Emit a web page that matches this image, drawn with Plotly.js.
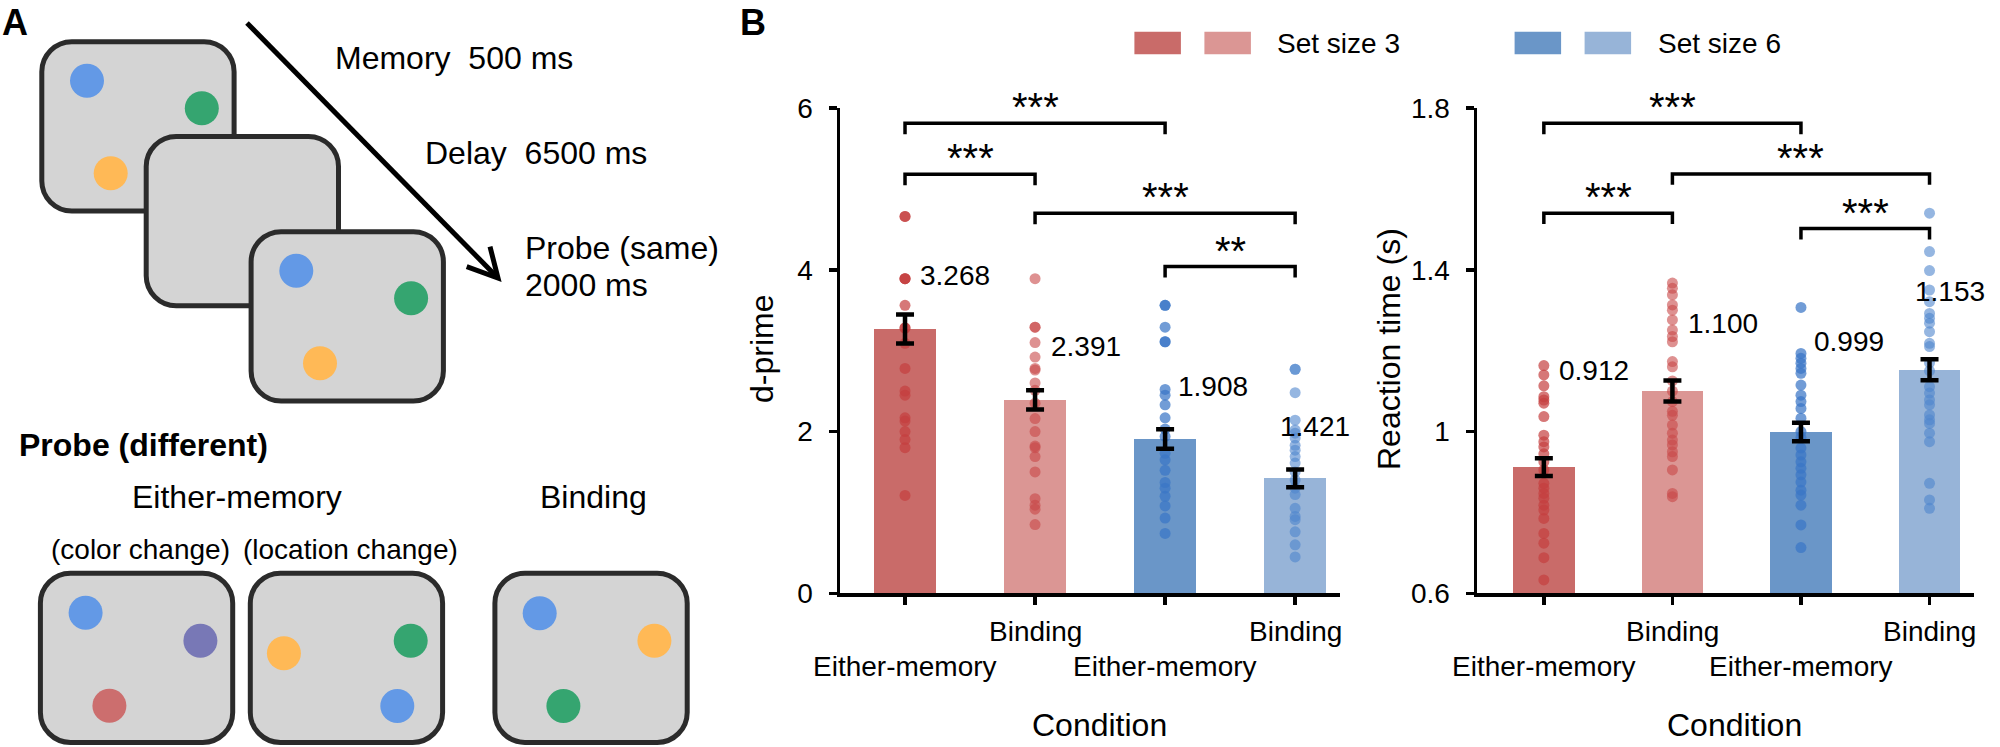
<!DOCTYPE html>
<html>
<head>
<meta charset="utf-8">
<script src="https://cdn.plot.ly/plotly-3.0.1.min.js"></script>
<style>
html,body{margin:0;padding:0;background:#fff;overflow:hidden}
#plot{width:2000px;height:747px}
</style>
</head>
<body>
<div id="plot"></div>
<script>
// ---------------- DATA ----------------
const categories = ['Either-memory', 'Binding', 'Either-memory', 'Binding'];
const groups = ['Set size 3', 'Set size 6'];

const dpMeans = [3.268, 2.391, 1.908, 1.421];
const dpSem = [0.18, 0.12, 0.12, 0.11];
const rtMeans = [0.912, 1.100, 0.999, 1.153];
const rtSem = [0.022, 0.026, 0.023, 0.026];

const dpEither3 = [4.66, 4.66, 3.89, 3.89, 3.89, 3.56, 3.28, 3.28, 3.09, 2.78, 2.50, 2.45, 2.17, 2.13, 2.00, 1.90, 1.80, 1.21];
const dpBinding3 = [3.89, 3.29, 3.29, 3.10, 2.92, 2.78, 2.76, 2.60, 2.51, 2.35, 2.16, 2.00, 1.82, 1.80, 1.69, 1.50, 1.17, 1.09, 1.04, 0.85];
const dpEither6 = [3.56, 3.56, 3.29, 3.11, 3.11, 2.52, 2.45, 2.33, 2.17, 2.03, 1.94, 1.73, 1.65, 1.52, 1.37, 1.30, 1.20, 1.08, 0.93, 0.74];
const dpBinding6 = [2.77, 2.77, 2.48, 2.14, 2.02, 1.98, 1.92, 1.83, 1.77, 1.69, 1.61, 1.50, 1.40, 1.30, 1.22, 1.05, 0.95, 0.91, 0.76, 0.60, 0.45];

const rtEither3 = [1.163, 1.140, 1.113, 1.086, 1.078, 1.070, 1.037, 0.991, 0.975, 0.962, 0.945, 0.925, 0.905, 0.872, 0.860, 0.847, 0.835, 0.818, 0.806, 0.785, 0.748, 0.724, 0.688, 0.633];
const rtBinding3 = [1.367, 1.354, 1.338, 1.313, 1.300, 1.276, 1.251, 1.235, 1.222, 1.173, 1.160, 1.125, 1.100, 1.074, 1.050, 1.040, 1.016, 0.996, 0.979, 0.967, 0.950, 0.938, 0.905, 0.847, 0.839];
const rtEither6 = [1.307, 1.193, 1.181, 1.169, 1.156, 1.144, 1.115, 1.090, 1.074, 1.057, 1.033, 1.000, 0.985, 0.959, 0.942, 0.925, 0.909, 0.893, 0.875, 0.855, 0.843, 0.818, 0.769, 0.713];
const rtBinding6 = [1.540, 1.445, 1.398, 1.350, 1.321, 1.292, 1.280, 1.268, 1.247, 1.218, 1.210, 1.170, 1.150, 1.111, 1.095, 1.078, 1.066, 1.041, 1.029, 1.020, 0.996, 0.975, 0.872, 0.831, 0.810];

const dpTickVals = [0, 2, 4, 6];
const dpTickText = ['0', '2', '4', '6'];
const rtTickVals = [0.6, 1.0, 1.4, 1.8];
const rtTickText = ['0.6', '1', '1.4', '1.8'];

// significance comparisons: [from, to, level, stars]
const dpComparisons = [[0, 2, 5.81, '***'], [0, 1, 5.18, '***'], [1, 3, 4.70, '***'], [2, 3, 4.04, '**']];
const rtComparisons = [[0, 2, 1.762, '***'], [1, 3, 1.637, '***'], [0, 1, 1.540, '***'], [2, 3, 1.502, '***']];

// ---------------- STYLE / LAYOUT ----------------
const W = 2000, H = 747;
const px = x => x / W;
const py = y => 1 - y / H;
const FONT = 'Liberation Sans, Arial, Helvetica, sans-serif';
const barColors = ['#C96B69', '#DB9694', '#6A96C8', '#97B4D8'];
const dotColors = ['rgba(196,62,62,0.7)', 'rgba(200,72,72,0.6)', 'rgba(58,118,198,0.72)', 'rgba(78,134,205,0.6)'];

const dpLabelY = [3.923, 3.049, 2.554, 2.06];
const rtLabelY = [1.150, 1.267, 1.223, 1.347];
const labelShift = [13, 14, 11, -17];

const charts = [
  {xa: 'x', ya: 'y', means: dpMeans, sem: dpSem, pts: [dpEither3, dpBinding3, dpEither6, dpBinding6],
   comps: dpComparisons, legDrop: 0.136, labelY: dpLabelY},
  {xa: 'x2', ya: 'y2', means: rtMeans, sem: rtSem, pts: [rtEither3, rtBinding3, rtEither6, rtBinding6],
   comps: rtComparisons, legDrop: 0.027, labelY: rtLabelY}
];

const traces = [];
const shapes = [];
const annotations = [];
const catIdx = categories.map((c, i) => i);

charts.forEach(c => {
  traces.push({type: 'bar', x: catIdx, y: c.means, width: 0.48, xaxis: c.xa, yaxis: c.ya,
    marker: {color: barColors, line: {width: 0}}, hoverinfo: 'skip', showlegend: false});
  c.pts.forEach((vals, i) => {
    traces.push({type: 'scatter', mode: 'markers', x: vals.map(() => i), y: vals, xaxis: c.xa, yaxis: c.ya,
      marker: {size: 11, color: dotColors[i], line: {width: 0}}, hoverinfo: 'skip', showlegend: false, cliponaxis: false});
  });
  traces.push({type: 'scatter', mode: 'markers', x: catIdx, y: c.means, xaxis: c.xa, yaxis: c.ya,
    marker: {size: 1, color: 'rgba(0,0,0,0)'}, hoverinfo: 'skip', showlegend: false, cliponaxis: false,
    error_y: {type: 'data', array: c.sem, visible: true, color: '#000', thickness: 4.5, width: 9}});
  // value labels
  c.means.forEach((m, i) => {
    annotations.push({xref: c.xa, yref: c.ya, x: i, y: c.labelY[i], text: m.toFixed(3), showarrow: false,
      xanchor: 'left', yanchor: 'middle', xshift: labelShift[i], font: {family: FONT, size: 28, color: '#000'}});
  });
  // significance brackets
  c.comps.forEach(([a, b, lvl, s]) => {
    shapes.push({type: 'path', xref: c.xa, yref: c.ya,
      path: `M ${a},${lvl - c.legDrop} L ${a},${lvl} L ${b},${lvl} L ${b},${lvl - c.legDrop}`,
      line: {color: '#000', width: 3.5}});
    annotations.push({xref: c.xa, yref: c.ya, x: (a + b) / 2, y: lvl, text: s, showarrow: false,
      xanchor: 'center', yanchor: 'middle', yshift: 16, font: {family: FONT, size: 40, color: '#000'}});
  });
  // category labels (two staggered rows)
  categories.forEach((t, i) => {
    annotations.push({xref: c.xa, yref: 'paper', x: i, y: py(i % 2 === 1 ? 631.7 : 666.7), text: t, showarrow: false,
      xanchor: 'center', yanchor: 'middle', font: {family: FONT, size: 28, color: '#000'}});
  });
});

function axisX(dom, range, anchor) {
  return {domain: dom, range: range, anchor: anchor, showline: true, linecolor: '#000', linewidth: 3.5,
    ticks: 'outside', ticklen: 8, tickwidth: 3.5, tickcolor: '#000', tickvals: [0, 1, 2, 3],
    showticklabels: false, showgrid: false, zeroline: false, fixedrange: true};
}
function axisY(range, vals, text, anchor) {
  return {domain: [py(593.3), py(108)], range: range, anchor: anchor, showline: true, linecolor: '#000', linewidth: 3.5,
    ticks: 'outside', ticklen: 8, tickwidth: 3.5, tickcolor: '#000', tickvals: vals, ticktext: text,
    tickfont: {family: FONT, size: 28, color: '#000'}, ticklabelstandoff: 10,
    showgrid: false, zeroline: false, fixedrange: true};
}

// axis titles
const axisTitles = [
  {text: 'd-prime', x: 762, y: 349, angle: -90},
  {text: 'Reaction time (s)', x: 1389, y: 349, angle: -90},
  {text: 'Condition', x: 1099, y: 725, angle: 0},
  {text: 'Condition', x: 1734, y: 725, angle: 0}
];
axisTitles.forEach(t => annotations.push({xref: 'paper', yref: 'paper', x: px(t.x), y: py(t.y), text: t.text,
  textangle: t.angle, showarrow: false, xanchor: 'center', yanchor: 'middle', font: {family: FONT, size: 32, color: '#000'}}));

// legend (two swatches + label per group)
const legendStart = [1134.4, 1514.6];
groups.forEach((g, gi) => {
  const x0 = legendStart[gi];
  [0, 1].forEach(k => {
    shapes.push({type: 'rect', xref: 'paper', yref: 'paper', x0: px(x0 + k * 70), x1: px(x0 + k * 70 + 46.5),
      y0: py(54.3), y1: py(31.7), fillcolor: barColors[gi * 2 + k], line: {width: 0}});
  });
  annotations.push({xref: 'paper', yref: 'paper', x: px(x0 + 141), y: py(43.3), text: g, showarrow: false,
    xanchor: 'left', yanchor: 'middle', font: {family: FONT, size: 28, color: '#000'}});
});

// panel letters
annotations.push({xref: 'paper', yref: 'paper', x: px(15), y: 1, text: '<b>A</b>', showarrow: false,
  xanchor: 'center', yanchor: 'top', font: {family: FONT, size: 36, color: '#000'}});
annotations.push({xref: 'paper', yref: 'paper', x: px(753), y: 1, text: '<b>B</b>', showarrow: false,
  xanchor: 'center', yanchor: 'top', font: {family: FONT, size: 36, color: '#000'}});

// ---------------- PANEL A SCHEMATIC ----------------
const stimColors = {blue: '#6399E6', green: '#35A570', orange: '#FFB956', red: '#CC6E6E', purple: '#7878B6'};
const frameW = 197.3, frameH = 174.2, frameR = 30;
const frames = [
  {x: 39.3, y: 39.3, dots: [['blue', 47.7, 41.5], ['green', 162.5, 69], ['orange', 71.4, 134]]},
  {x: 143.7, y: 134, dots: []},
  {x: 248.6, y: 229.3, dots: [['blue', 47.7, 41.5], ['green', 162.5, 69], ['orange', 71.4, 134]]},
  {x: 37.9, y: 570.7, dots: [['blue', 47.7, 42], ['purple', 162.5, 70], ['red', 71.5, 135]]},
  {x: 247.8, y: 570.7, dots: [['orange', 36.1, 82.6], ['green', 162.9, 70], ['blue', 149.5, 135.3]]},
  {x: 492.4, y: 570.7, dots: [['blue', 47.3, 42.6], ['orange', 162, 70], ['green', 71, 135.3]]}
];
function roundRect(x, y, w, h, r) {
  const k = 0.552 * r;
  const P = (a, b) => `${px(a)},${py(b)}`;
  return `M ${P(x + r, y)} L ${P(x + w - r, y)} C ${P(x + w - r + k, y)} ${P(x + w, y + r - k)} ${P(x + w, y + r)} ` +
    `L ${P(x + w, y + h - r)} C ${P(x + w, y + h - r + k)} ${P(x + w - r + k, y + h)} ${P(x + w - r, y + h)} ` +
    `L ${P(x + r, y + h)} C ${P(x + r - k, y + h)} ${P(x, y + h - r + k)} ${P(x, y + h - r)} ` +
    `L ${P(x, y + r)} C ${P(x, y + r - k)} ${P(x + r - k, y)} ${P(x + r, y)} Z`;
}
const dotR = 17;
frames.forEach(f => {
  const b = 2.5;
  shapes.push({type: 'path', xref: 'paper', yref: 'paper', layer: 'above',
    path: roundRect(f.x + b, f.y + b, frameW - 2 * b, frameH - 2 * b, frameR),
    fillcolor: '#D4D4D4', line: {color: '#2B2B2B', width: 5}});
  f.dots.forEach(([col, dx, dy]) => {
    const cx = f.x + dx, cy = f.y + dy;
    shapes.push({type: 'circle', xref: 'paper', yref: 'paper', x0: px(cx - dotR), x1: px(cx + dotR),
      y0: py(cy + dotR), y1: py(cy - dotR), fillcolor: stimColors[col], line: {width: 0}});
  });
});
// time arrow
const arrow = {x0: 247, y0: 23, x1: 498, y1: 278, headA: [490, 246.7], headB: [466.7, 266.7]};
shapes.push({type: 'line', xref: 'paper', yref: 'paper', x0: px(arrow.x0), y0: py(arrow.y0),
  x1: px(arrow.x1 - 2), y1: py(arrow.y1 - 2), line: {color: '#000', width: 5}});
shapes.push({type: 'path', xref: 'paper', yref: 'paper',
  path: `M ${px(arrow.headA[0])},${py(arrow.headA[1])} L ${px(arrow.x1)},${py(arrow.y1)} L ${px(arrow.headB[0])},${py(arrow.headB[1])}`,
  line: {color: '#000', width: 5}});

const panelTexts = [
  {t: 'Memory&nbsp;&nbsp;500 ms', x: 332.6, y: 58.3, s: 32, a: 'left'},
  {t: 'Delay&nbsp;&nbsp;6500 ms', x: 423.2, y: 153.3, s: 32, a: 'left'},
  {t: 'Probe (same)', x: 522.7, y: 248.3, s: 32, a: 'left'},
  {t: '2000 ms', x: 522.7, y: 285, s: 32, a: 'left'},
  {t: '<b>Probe (different)</b>', x: 17, y: 445, s: 32, a: 'left'},
  {t: 'Either-memory', x: 236.8, y: 496.7, s: 32, a: 'center'},
  {t: 'Binding', x: 593.3, y: 496.7, s: 32, a: 'center'},
  {t: '(color change)', x: 140.2, y: 549.3, s: 28, a: 'center'},
  {t: '(location change)', x: 350.9, y: 549.3, s: 28, a: 'center'}
];
panelTexts.forEach(p => annotations.push({xref: 'paper', yref: 'paper', x: px(p.x), y: py(p.y), text: p.t,
  showarrow: false, xanchor: p.a, yanchor: 'middle', font: {family: FONT, size: p.s, color: '#000'}}));

const layout = {
  width: W, height: H, margin: {l: 0, r: 0, t: 0, b: 0, pad: 0},
  paper_bgcolor: '#fff', plot_bgcolor: 'rgba(0,0,0,0)', showlegend: false,
  font: {family: FONT, size: 28, color: '#000'},
  xaxis: axisX([840 / W, 1340 / W], [-0.5, 3.345], 'y'),
  yaxis: axisY([0, 6], dpTickVals, dpTickText, 'x'),
  xaxis2: axisX([1477 / W, 1974 / W], [-0.52, 3.346], 'y2'),
  yaxis2: axisY([0.6, 1.8], rtTickVals, rtTickText, 'x2'),
  bargap: 0, shapes: shapes, annotations: annotations
};

Plotly.newPlot('plot', traces, layout, {displayModeBar: false, staticPlot: true});
</script>
</body>
</html>
